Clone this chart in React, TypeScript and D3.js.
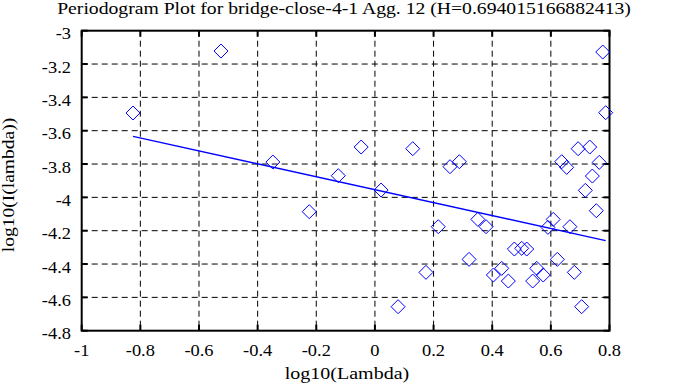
import * as d3 from 'd3';

// log10(Lambda) / log10(I(lambda)) pairs
const lambdaLog = [
  -0.825, -0.525, -0.348, -0.224, -0.125, -0.047, 0.021, 0.079, 0.129, 0.174,
  0.216, 0.256, 0.288, 0.321, 0.351, 0.379, 0.404, 0.4325, 0.455, 0.4755,
  0.5006, 0.5177, 0.538, 0.552, 0.574, 0.59, 0.608, 0.622, 0.637, 0.654,
  0.665, 0.68, 0.693, 0.705, 0.7176, 0.7326, 0.7415, 0.755, 0.765, 0.777, 0.787,
];
const intensityLog = [
  -3.494, -3.122, -3.788, -4.086, -3.87, -3.698, -3.956, -4.656, -3.708, -4.45,
  -4.176, -3.816, -3.786, -4.372, -4.132, -4.176, -4.466, -4.426, -4.502, -4.31,
  -4.306, -4.31, -4.502, -4.426, -4.466, -4.18, -4.132, -4.372, -3.786, -3.82,
  -4.176, -4.45, -3.708, -4.656, -3.958, -3.698, -3.872, -4.08, -3.79, -3.128, -3.492,
];

const H = 0.694015166882413;
const fitSlope = 1 - 2 * H;
const fitIntercept = -3.954;

const xTicks = [-1, -0.8, -0.6, -0.4, -0.2, 0, 0.2, 0.4, 0.6, 0.8];
const yTicks = [-3, -3.2, -3.4, -3.6, -3.8, -4, -4.2, -4.4, -4.6, -4.8];

const title = 'Periodogram Plot for bridge-close-4-1 Agg. 12 (H=' + H + ')';

// the original font is wider than Times, so stretch text horizontally
function Label(props: { x: number; y: number; anchor?: string; sx?: number; rotate?: number; children: any }) {
  const { x, y, anchor = 'middle', sx = 1.22, rotate = 0, children } = props;
  return (
    <text transform={`translate(${x},${y}) rotate(${rotate}) scale(${sx},1)`} textAnchor={anchor} fontSize={16}>
      {children}
    </text>
  );
}

export default function App() {
  const W = 688, Hgt = 387;
  const left = 81.7, right = 609.5, top = 30.7, bottom = 330.7;

  const x = d3.scaleLinear().domain([-1, 0.8]).range([left, right]);
  const y = d3.scaleLinear().domain([-3, -4.8]).range([top, bottom]);

  const pts = lambdaLog.map((lx, i) => ({ lx, ly: intensityLog[i] }));
  const [xmin, xmax] = d3.extent(lambdaLog) as [number, number];
  const fit = d3.line<number>()
    .x(d => x(d))
    .y(d => y(fitIntercept + fitSlope * d));

  const diamond = (cx: number, cy: number, r: number) =>
    `M${cx},${cy - r}L${cx + r},${cy}L${cx},${cy + r}L${cx - r},${cy}Z`;

  const font = '"Liberation Serif", "DejaVu Serif", serif';
  const fmt = (v: number) => String(+v.toFixed(1));
  const tickLen = 6;

  return (
    <div style={{ position: 'absolute', left: 0, top: 0 }}>
      <svg width={W} height={Hgt} style={{ display: 'block', background: '#fff' }} fontFamily={font}>
        <Label x={344} y={14} sx={1.23}>{title}</Label>

        {/* grid */}
        {xTicks.slice(1, -1).map(t => (
          <line key={'gx' + t} x1={x(t)} x2={x(t)} y1={top} y2={bottom}
            stroke="#000" strokeWidth={1} strokeDasharray="6,4" />
        ))}
        {yTicks.slice(1, -1).map(t => (
          <line key={'gy' + t} x1={left} x2={right} y1={y(t)} y2={y(t)}
            stroke="#000" strokeWidth={1} strokeDasharray="6,4" />
        ))}

        {/* inner ticks on all four sides */}
        {xTicks.map(t => (
          <g key={'tx' + t}>
            <line x1={x(t)} x2={x(t)} y1={bottom} y2={bottom - tickLen} stroke="#000" strokeWidth={2} />
            <line x1={x(t)} x2={x(t)} y1={top} y2={top + tickLen} stroke="#000" strokeWidth={2} />
            <Label x={x(t)} y={356} sx={1.15}>{fmt(t)}</Label>
          </g>
        ))}
        {yTicks.map(t => (
          <g key={'ty' + t}>
            <line x1={left} x2={left + tickLen} y1={y(t)} y2={y(t)} stroke="#000" strokeWidth={2} />
            <line x1={right} x2={right - tickLen} y1={y(t)} y2={y(t)} stroke="#000" strokeWidth={2} />
            <Label x={71} y={y(t) + 8.5} anchor="end" sx={1.15}>{fmt(t)}</Label>
          </g>
        ))}

        <rect x={left} y={top} width={right - left} height={bottom - top}
          fill="none" stroke="#000" strokeWidth={2} />

        {pts.map((p, i) => (
          <path key={i} d={diamond(x(p.lx), y(p.ly), 7)} fill="none" stroke="#0000ff" strokeWidth={1} />
        ))}

        <path d={fit([xmin, xmax]) || ''} fill="none" stroke="#0000ff" strokeWidth={1.4} />

        <Label x={347} y={379} sx={1.25}>log10(Lambda)</Label>
        <Label x={13.5} y={185} sx={1.22} rotate={-90}>log10(I(lambda))</Label>
      </svg>
    </div>
  );
}
